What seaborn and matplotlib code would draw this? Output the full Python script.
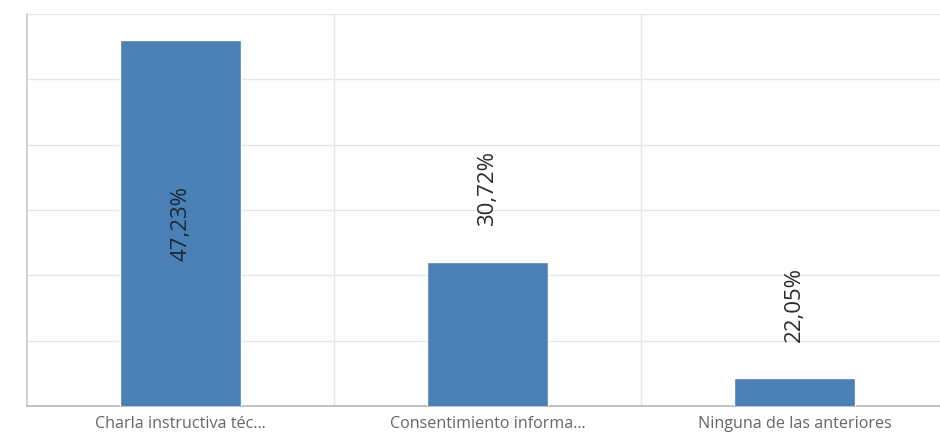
import matplotlib
matplotlib.use("Agg")
import matplotlib.pyplot as plt
import seaborn as sns
import pandas as pd
import numpy as np

categories = ["Charla instructiva téc...", "Consentimiento informa...", "Ninguna de las anteriores"]
values = [47.23, 30.72, 22.05]
labels = ["47,23%", "30,72%", "22,05%"]

sns.set_theme(style="white")
plt.rcParams["font.family"] = ["Open Sans", "DejaVu Sans"]

df = pd.DataFrame({"cat": categories, "val": values})

fig = plt.figure(figsize=(9.4, 4.4), dpi=100)
ax = fig.add_axes([27/940, 34/440, 921/940, 392/440])

sns.barplot(data=df, x="cat", y="val", color="#4b80b6", width=0.395,
            saturation=1, ax=ax, zorder=3)

ymin, ymax = 20, 49.2
ax.set_ylim(ymin, ymax)
ax.set_xlim(-0.5, 2.5)
ax.set_yticks(np.linspace(ymin, ymax, 7))
ax.set_yticklabels([])
ax.set_xticks([0, 1, 2])
ax.set_xticklabels(categories, color="#666666", fontsize=11.6)
ax.tick_params(axis="x", length=0, pad=7)
ax.tick_params(axis="y", length=11, color="#e6e6e6", width=1)
ax.set_xticks([0.5, 1.5], minor=True)
ax.tick_params(axis="x", which="minor", length=9, color="#e6e6e6", width=1)
ax.set_xlabel("")
ax.set_ylabel("")

ax.grid(axis="y", color="#e6e6e6", linewidth=1, zorder=0)
ax.grid(axis="x", which="minor", color="#e6e6e6", linewidth=1, zorder=0)
ax.set_axisbelow(True)

for s in ["top", "right"]:
    ax.spines[s].set_visible(False)
ax.spines["left"].set_color("#cccccc")
ax.spines["bottom"].set_color("#bbbbbb")

for i, (p, lab) in enumerate(zip(ax.patches, labels)):
    x = p.get_x() + p.get_width() / 2
    top = p.get_y() + p.get_height()
    h = top - ymin
    if h > (ymax - ymin) * 0.6:
        ax.text(x, (top + ymin) / 2, lab, rotation=90, ha="center", va="center",
                fontsize=16, color="#1c2838", zorder=5)
    else:
        ax.annotate(lab, (x, top), xytext=(0, 26), textcoords="offset points",
                    rotation=90, ha="center", va="bottom", fontsize=16,
                    color="#2a2a2a", zorder=5)

fig.savefig("out.png", dpi=100)
